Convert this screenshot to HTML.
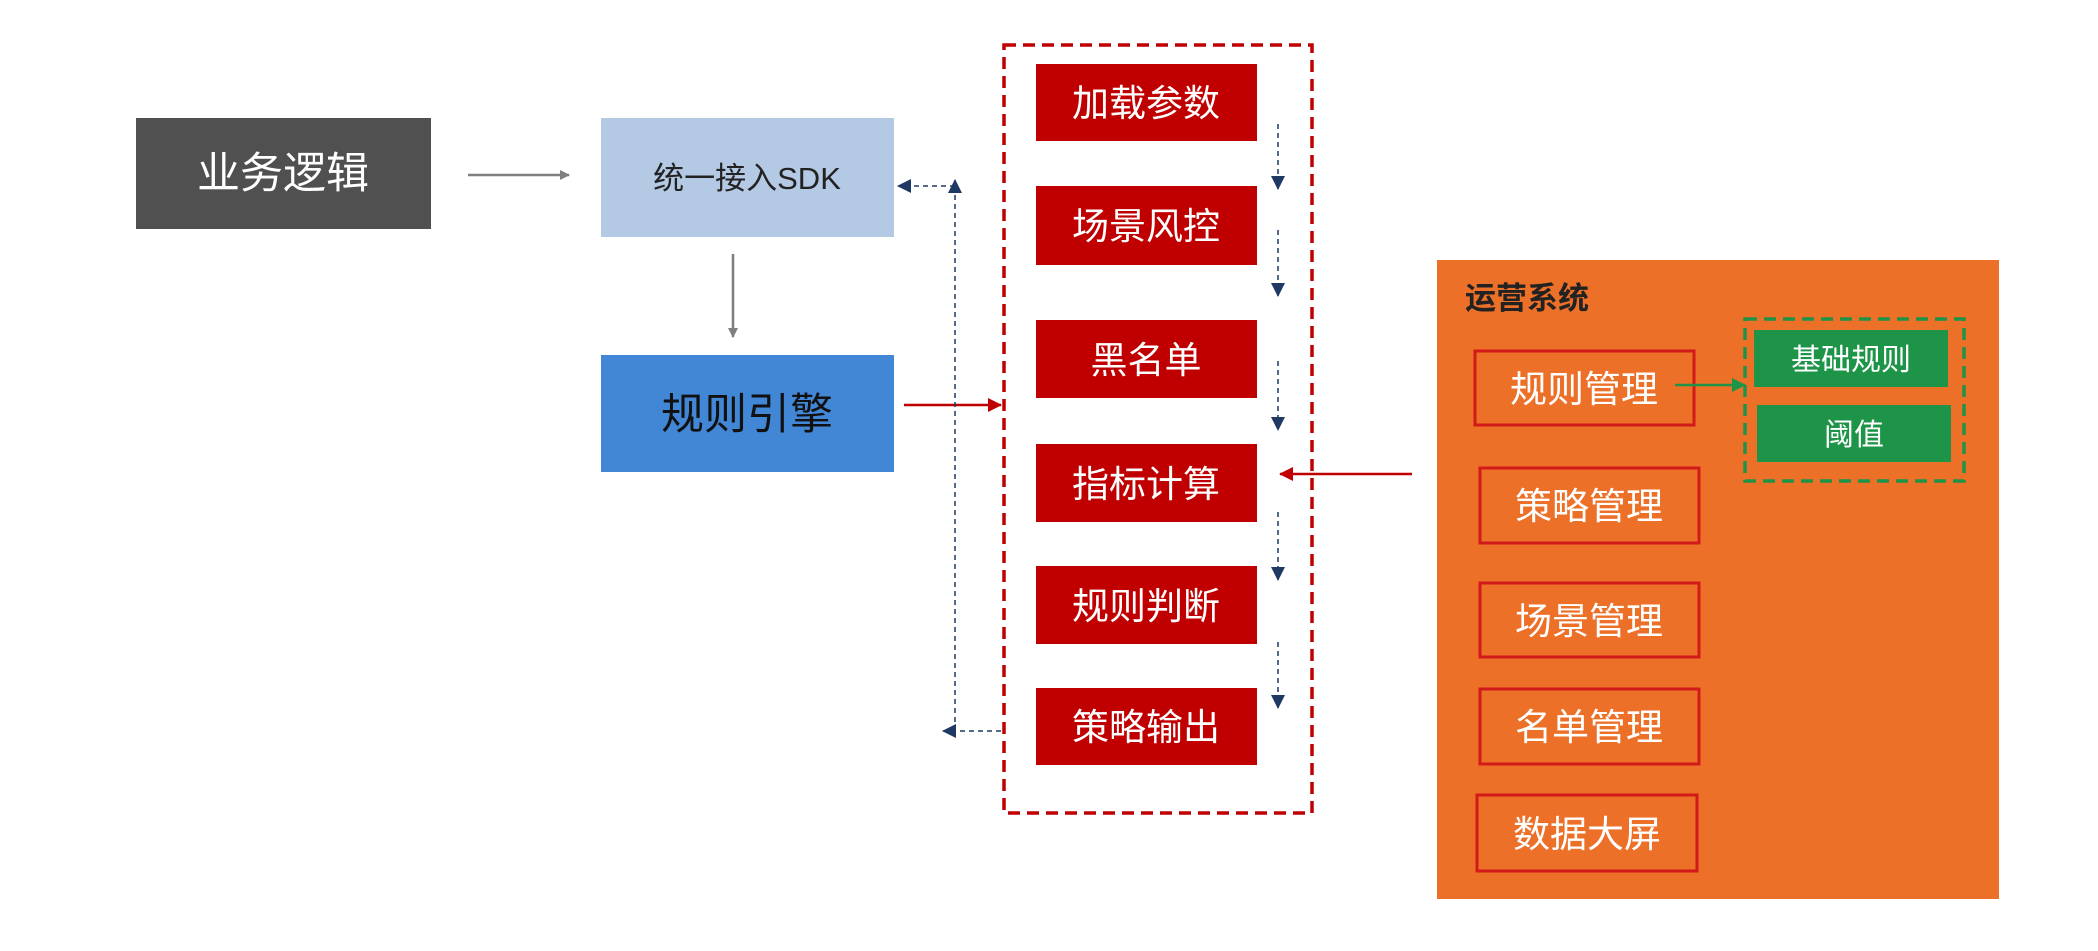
<!DOCTYPE html>
<html><head><meta charset="utf-8"><style>
html,body{margin:0;padding:0;background:#fff;}
svg text{font-family:"Liberation Sans","Noto Sans CJK SC",sans-serif;}
</style></head><body>
<svg width="2098" height="946" viewBox="0 0 2098 946" xmlns="http://www.w3.org/2000/svg">
<defs>
<marker id="ag" markerWidth="10" markerHeight="10" refX="9" refY="5" orient="auto" markerUnits="userSpaceOnUse"><path d="M0,0 L10,5 L0,10 z" fill="#7f7f7f"/></marker>
<marker id="ar" markerWidth="14" markerHeight="14" refX="13" refY="7" orient="auto" markerUnits="userSpaceOnUse"><path d="M0,0 L14,7 L0,14 z" fill="#c00000"/></marker>
<marker id="ab" markerWidth="14" markerHeight="14" refX="13" refY="7" orient="auto" markerUnits="userSpaceOnUse"><path d="M0,0 L14,7 L0,14 z" fill="#1f3864"/></marker>
<marker id="agr" markerWidth="14" markerHeight="14" refX="13" refY="7" orient="auto" markerUnits="userSpaceOnUse"><path d="M0,0 L14,7 L0,14 z" fill="#1e9448"/></marker>
</defs>

<!-- left column -->
<rect x="136" y="118" width="295" height="111" fill="#505050"/>
<text x="283" y="188" font-size="43" fill="#fff" text-anchor="middle">业务逻辑</text>
<line x1="468" y1="175" x2="569" y2="175" stroke="#7f7f7f" stroke-width="2.5" marker-end="url(#ag)"/>
<rect x="601" y="118" width="293" height="119" fill="#b4c9e3"/>
<text x="747" y="189" font-size="31" fill="#222" text-anchor="middle">统一接入SDK</text>
<line x1="733" y1="254" x2="733" y2="337" stroke="#7f7f7f" stroke-width="2.5" marker-end="url(#ag)"/>
<rect x="601" y="355" width="293" height="117" fill="#4286d6"/>
<text x="747" y="429" font-size="43" fill="#111" text-anchor="middle">规则引擎</text>
<line x1="904" y1="405" x2="1001" y2="405" stroke="#c00000" stroke-width="2.5" marker-end="url(#ar)"/>

<!-- blue feedback -->
<line x1="955" y1="731" x2="955" y2="180" stroke="#1f3864" stroke-width="1.5" stroke-dasharray="5,4" marker-end="url(#ab)"/>
<line x1="955" y1="186" x2="898" y2="186" stroke="#1f3864" stroke-width="1.5" stroke-dasharray="5,4" marker-end="url(#ab)"/>
<line x1="1001" y1="731" x2="943" y2="731" stroke="#1f3864" stroke-width="1.5" stroke-dasharray="5,4" marker-end="url(#ab)"/>

<!-- red container -->
<rect x="1004" y="45" width="308" height="768" fill="none" stroke="#c00000" stroke-width="3.5" stroke-dasharray="12,7"/>
<g fill="#c00000">
<rect x="1036" y="64" width="221" height="77"/>
<rect x="1036" y="186" width="221" height="79"/>
<rect x="1036" y="320" width="221" height="78"/>
<rect x="1036" y="444" width="221" height="78"/>
<rect x="1036" y="566" width="221" height="78"/>
<rect x="1036" y="688" width="221" height="77"/>
</g>
<g font-size="37" fill="#fff" text-anchor="middle">
<text x="1146" y="116">加载参数</text>
<text x="1146" y="239">场景风控</text>
<text x="1146" y="373">黑名单</text>
<text x="1146" y="497">指标计算</text>
<text x="1146" y="619">规则判断</text>
<text x="1146" y="740">策略输出</text>
</g>
<g stroke="#1f3864" stroke-width="1.5" stroke-dasharray="5,4" marker-end="url(#ab)">
<line x1="1278" y1="124" x2="1278" y2="189"/>
<line x1="1278" y1="230" x2="1278" y2="296"/>
<line x1="1278" y1="361" x2="1278" y2="430"/>
<line x1="1278" y1="512" x2="1278" y2="580"/>
<line x1="1278" y1="642" x2="1278" y2="708"/>
</g>
<line x1="1412" y1="474" x2="1280" y2="474" stroke="#c00000" stroke-width="2.5" marker-end="url(#ar)"/>

<!-- orange system -->
<rect x="1437" y="260" width="562" height="639" fill="#ed7028"/>
<text x="1465" y="309" font-size="31" font-weight="bold" fill="#222">运营系统</text>
<g fill="none" stroke="#d21a1a" stroke-width="3">
<rect x="1475" y="351" width="219" height="74"/>
<rect x="1480" y="468" width="219" height="75"/>
<rect x="1480" y="583" width="219" height="74"/>
<rect x="1480" y="689" width="219" height="75"/>
<rect x="1477" y="795" width="220" height="76"/>
</g>
<g font-size="37" fill="#fff" text-anchor="middle">
<text x="1584" y="402">规则管理</text>
<text x="1589" y="519">策略管理</text>
<text x="1589" y="634">场景管理</text>
<text x="1589" y="740">名单管理</text>
<text x="1587" y="847">数据大屏</text>
</g>
<rect x="1745" y="319" width="219" height="162" fill="none" stroke="#1e9448" stroke-width="3.5" stroke-dasharray="12,7"/>
<rect x="1754" y="330" width="194" height="57" fill="#1e9448"/>
<rect x="1757" y="405" width="194" height="57" fill="#1e9448"/>
<text x="1851" y="370" font-size="30" fill="#fff" text-anchor="middle">基础规则</text>
<text x="1854" y="445" font-size="30" fill="#fff" text-anchor="middle">阈值</text>
<line x1="1675" y1="385" x2="1745" y2="385" stroke="#1e9448" stroke-width="2.5" marker-end="url(#agr)"/>
</svg>
</body></html>
